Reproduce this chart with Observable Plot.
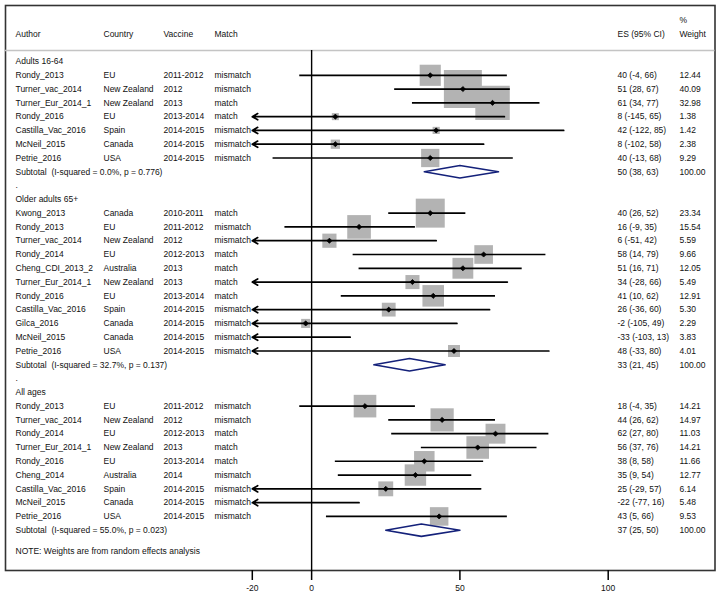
<!DOCTYPE html>
<html><head><meta charset="utf-8">
<script src="https://cdn.jsdelivr.net/npm/d3@7"></script>
<script src="https://cdn.jsdelivr.net/npm/@observablehq/plot@0.6"></script>
<style>body{margin:0;background:#fff}</style>
</head><body><div id="chart"></div>
<script>
// ---------- data ----------
const groups = ["Adults 16-64", "Older adults 65+", "All ages"];
const subtotalLabels = [
  "Subtotal  (I-squared = 0.0%, p = 0.776)",
  "Subtotal  (I-squared = 32.7%, p = 0.137)",
  "Subtotal  (I-squared = 55.0%, p = 0.023)"
];
const subES = [50, 33, 37];
const subLo = [38, 21, 25];
const subHi = [63, 45, 50];

const authors = [
  ["Rondy_2013","Turner_vac_2014","Turner_Eur_2014_1","Rondy_2016","Castilla_Vac_2016","McNeil_2015","Petrie_2016"],
  ["Kwong_2013","Rondy_2013","Turner_vac_2014","Rondy_2014","Cheng_CDI_2013_2","Turner_Eur_2014_1","Rondy_2016","Castilla_Vac_2016","Gilca_2016","McNeil_2015","Petrie_2016"],
  ["Rondy_2013","Turner_vac_2014","Rondy_2014","Turner_Eur_2014_1","Rondy_2016","Cheng_2014","Castilla_Vac_2016","McNeil_2015","Petrie_2016"]
];
const countries = [
  ["EU","New Zealand","New Zealand","EU","Spain","Canada","USA"],
  ["Canada","EU","New Zealand","EU","Australia","New Zealand","EU","Spain","Canada","Canada","USA"],
  ["EU","New Zealand","EU","New Zealand","EU","Australia","Spain","Canada","USA"]
];
const vaccines = [
  ["2011-2012","2012","2013","2013-2014","2014-2015","2014-2015","2014-2015"],
  ["2010-2011","2011-2012","2012","2012-2013","2013","2013","2013-2014","2014-2015","2014-2015","2014-2015","2014-2015"],
  ["2011-2012","2012","2012-2013","2013","2013-2014","2014","2014-2015","2014-2015","2014-2015"]
];
const matches = [
  ["mismatch","mismatch","match","match","mismatch","mismatch","mismatch"],
  ["match","mismatch","mismatch","match","match","match","match","mismatch","mismatch","mismatch","mismatch"],
  ["mismatch","mismatch","match","match","match","mismatch","mismatch","mismatch","mismatch"]
];
const esVals = [
  [40, 51, 61, 8, 42, 8, 40],
  [40, 16, 6, 58, 51, 34, 41, 26, -2, -33, 48],
  [18, 44, 62, 56, 38, 35, 25, -22, 43]
];
const loVals = [
  [-4, 28, 34, -145, -122, -102, -13],
  [26, -9, -51, 14, 16, -28, 10, -36, -105, -103, -33],
  [-4, 26, 27, 37, 8, 9, -29, -77, 5]
];
const hiVals = [
  [66, 67, 77, 65, 85, 58, 68],
  [52, 35, 42, 79, 71, 66, 62, 60, 49, 13, 80],
  [35, 62, 80, 76, 58, 54, 57, 16, 66]
];
const weights = [
  [12.44, 40.09, 32.98, 1.38, 1.42, 2.38, 9.29],
  [23.34, 15.54, 5.59, 9.66, 12.05, 5.49, 12.91, 5.30, 2.29, 3.83, 4.01],
  [14.21, 14.97, 11.03, 14.21, 11.66, 12.77, 6.14, 5.48, 9.53]
];
const xTicks = [-20, 0, 50, 100];
const noteText = "NOTE: Weights are from random effects analysis";

// ---------- build rows ----------
const xMin = -20;
const studies = [], heads = [], subs = [], dots = [];
let row = 0;
groups.forEach((g, gi) => {
  heads.push({row, label: g});
  row++;
  authors[gi].forEach((a, i) => {
    studies.push({row, author: a, country: countries[gi][i], vaccine: vaccines[gi][i],
      match: matches[gi][i], es: esVals[gi][i], lo: loVals[gi][i], hi: hiVals[gi][i], w: weights[gi][i]});
    row++;
  });
  subs.push({row, label: subtotalLabels[gi], es: subES[gi], lo: subLo[gi], hi: subHi[gi], w: 100, g: gi});
  row++;
  if (gi < groups.length - 1) { dots.push({row, label: "."}); row++; }
});
const lastRow = row - 1;
const diamondPts = [];
subs.forEach(s => {
  const h = 0.45;
  [[s.lo, s.row], [s.es, s.row - h], [s.hi, s.row], [s.es, s.row + h], [s.lo, s.row]]
    .forEach(([x, y]) => diamondPts.push({x, y, g: s.g}));
});
const fmt = d => `${d.es} (${d.lo}, ${d.hi})`;
const plainCI = studies.filter(d => d.lo >= xMin);
const arrowCI = studies.filter(d => d.lo < xMin);
const shown = studies.filter(d => d.es >= xMin);

const textOpts = {frameAnchor: "left", textAnchor: "start", fill: "#111"};
const col = {author: 10, country: 98, vaccine: 158, match: 209, es: 612, weight: 674};

const chart = Plot.plot({
  width: 722, height: 597,
  marginTop: 5, marginLeft: 5, marginRight: 7.5, marginBottom: 27,
  style: {fontFamily: "'Liberation Sans', Arial, sans-serif", fontSize: "8.5px", color: "#111", background: "#fff"},
  x: {domain: [-20, 100], range: [251.8, 607.7]},
  y: {domain: [0, lastRow], range: [61, 529.7], axis: null},
  r: {type: "sqrt", domain: [0, 100], range: [0, 60 / Math.sqrt(Math.PI)]},
  marks: [
    Plot.frame({stroke: "#333", strokeWidth: 1.6}),
    Plot.ruleY([-0.8], {stroke: "#c4c4c4", strokeWidth: 1.5}),
    Plot.ruleX([0], {y1: -0.8, y2: lastRow + 2.95, stroke: "#000", strokeWidth: 1.4}),
    Plot.axisX({ticks: xTicks, tickFormat: d => String(d), tickSize: 10, tickPadding: 4, strokeWidth: 1.5, stroke: "#000", label: null, fill: "#111"}),
    // header
    Plot.text(["Author"], {...textOpts, y: () => -2, text: d => d, dx: col.author}),
    Plot.text(["Country"], {...textOpts, y: () => -2, text: d => d, dx: col.country}),
    Plot.text(["Vaccine"], {...textOpts, y: () => -2, text: d => d, dx: col.vaccine}),
    Plot.text(["Match"], {...textOpts, y: () => -2, text: d => d, dx: col.match}),
    Plot.text(["ES (95% CI)"], {...textOpts, y: () => -2, text: d => d, dx: col.es}),
    Plot.text(["%"], {...textOpts, y: () => -3, text: d => d, dx: col.weight}),
    Plot.text(["Weight"], {...textOpts, y: () => -2, text: d => d, dx: col.weight}),
    // squares, CIs, points
    Plot.dot(shown, {x: "es", y: "row", r: "w", symbol: "square", fill: "#b3b3b3"}),
    Plot.ruleY(plainCI, {y: "row", x1: "lo", x2: "hi", stroke: "#000", strokeWidth: 1.7}),
    Plot.arrow(arrowCI, {x1: "hi", x2: () => xMin, y1: "row", y2: "row", stroke: "#000", strokeWidth: 1.7, headAngle: 60, headLength: 5.5}),
    Plot.dot(shown, {x: "es", y: "row", r: 2.3, symbol: "diamond2", fill: "#000", stroke: "#000", strokeWidth: 0.8}),
    Plot.line(diamondPts, {x: "x", y: "y", z: "g", stroke: "#14217a", strokeWidth: 1.6, curve: "linear"}),
    // text columns
    Plot.text(heads, {...textOpts, y: "row", text: "label", dx: col.author}),
    Plot.text(dots, {...textOpts, y: "row", text: "label", dx: col.author}),
    Plot.text(studies, {...textOpts, y: "row", text: "author", dx: col.author}),
    Plot.text(studies, {...textOpts, y: "row", text: "country", dx: col.country}),
    Plot.text(studies, {...textOpts, y: "row", text: "vaccine", dx: col.vaccine}),
    Plot.text(studies, {...textOpts, y: "row", text: "match", dx: col.match}),
    Plot.text(studies, {...textOpts, y: "row", text: fmt, dx: col.es}),
    Plot.text(studies, {...textOpts, y: "row", text: d => d.w.toFixed(2), dx: col.weight}),
    Plot.text(subs, {...textOpts, y: "row", text: "label", dx: col.author}),
    Plot.text(subs, {...textOpts, y: "row", text: fmt, dx: col.es}),
    Plot.text(subs, {...textOpts, y: "row", text: d => d.w.toFixed(2), dx: col.weight}),
    Plot.text([noteText], {...textOpts, y: () => lastRow + 1.55, text: d => d, dx: col.author})
  ]
});
document.getElementById("chart").appendChild(chart);
</script>
</body></html>
